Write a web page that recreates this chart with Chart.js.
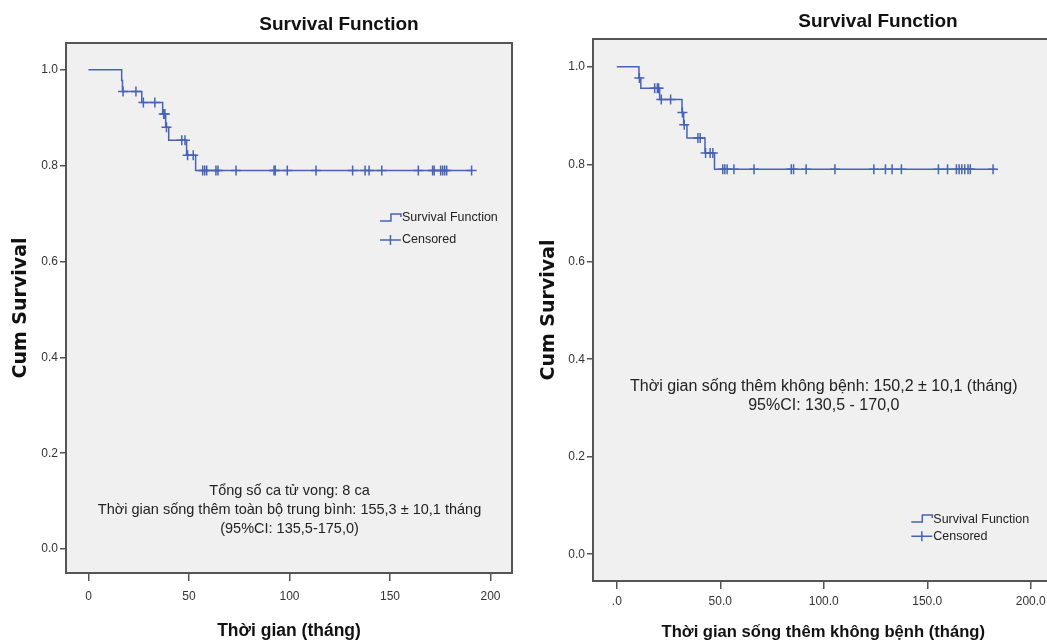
<!DOCTYPE html>
<html>
<head>
<meta charset="utf-8">
<script src="https://cdn.jsdelivr.net/npm/chart.js@4.4.0/dist/chart.umd.min.js"></script>
<style>
  html, body { margin: 0; padding: 0; background: #fff; overflow: hidden; width: 1047px; height: 642px; }
  .box { position: absolute; top: 0; width: 530px; height: 642px; }
</style>
</head>
<body>
<div class="box" style="left:0"><canvas id="chartOS" width="530" height="642"></canvas></div>
<div class="box" style="left:530px"><canvas id="chartDFS" width="530" height="642"></canvas></div>
<script>
// left panel: overall survival
var osTimes  = [0, 16.5, 16.9, 26.5, 36.9, 38.4, 39.9, 48.8, 53.3, 191];
var osValues = [1, 0.978, 0.955, 0.932, 0.908, 0.880, 0.853, 0.822, 0.790, 0.790];
var osCensored = [17.2, 23.6, 27.3, 33, 37.4, 38.0, 38.8, 46.4, 48, 49.3, 52.1,
  56.8, 57.8, 58.8, 63.4, 64.4, 73.4, 92.3, 92.9, 98.9, 113.2, 131.4, 137.6, 139.6,
  145.9, 164.1, 171.2, 172.0, 175.2, 176.2, 177.2, 178.2, 190.6];
var osXTicks = ['0', '50', '100', '150', '200'];
var osNotes = ['Tổng số ca tử vong: 8 ca',
  'Thời gian sống thêm toàn bộ trung bình: 155,3 ± 10,1 tháng',
  '(95%CI: 135,5-175,0)'];

// right panel: disease free survival
var dfsTimes  = [0, 10.7, 11.6, 20.7, 31.5, 32.3, 33.9, 42.6, 47.2, 183];
var dfsValues = [1, 0.977, 0.956, 0.933, 0.906, 0.881, 0.854, 0.823, 0.790, 0.790];
var dfsCensored = [10.9, 18.3, 19.6, 20.2, 21.5, 26, 31.7, 32.6, 39.2, 40.3, 42.9, 45.1, 46.4,
  51.2, 52.2, 53.3, 56.6, 66.3, 84.3, 85.4, 91.5, 105.4, 124.2, 129.8, 133, 137.5,
  155.4, 159.8, 164.1, 165.4, 166.7, 168.1, 169.7, 170.8, 181.8];
var dfsXTicks = ['.0', '50.0', '100.0', '150.0', '200.0'];
var dfsNotes = ['Thời gian sống thêm không bệnh: 150,2 ± 10,1 (tháng)',
  '95%CI: 130,5 - 170,0'];

var yTicks = ['0.0', '0.2', '0.4', '0.6', '0.8', '1.0'];

const blue = '#4862b6';
const fam = '"Liberation Sans", Arial, sans-serif';

// survival level at time t (last step at or before t)
const levelAt = (times, values, t) => {
  var s = values[0];
  for (var i = 0; i < times.length; i++) {
    if (times[i] <= t) s = values[i];
  }
  return s;
};

const decor = {
  id: 'decor',
  beforeDraw(chart, args, o) {
    const { ctx, chartArea: a } = chart;
    ctx.save();
    ctx.fillStyle = '#f0f0f0';
    ctx.fillRect(a.left, a.top, a.right - a.left, a.bottom - a.top);
    ctx.restore();
  },
  afterDraw(chart, args, o) {
    const { ctx, chartArea: a, scales: { x, y } } = chart;
    ctx.save();
    ctx.strokeStyle = '#555';
    ctx.lineWidth = 2;
    ctx.strokeRect(a.left, a.top, a.right - a.left, a.bottom - a.top);

    ctx.fillStyle = '#111';
    ctx.textAlign = 'center';
    ctx.textBaseline = 'middle';
    ctx.font = 'bold 19px ' + fam;
    ctx.fillText(o.title, o.titleX, o.titleY);
    ctx.font = 'bold ' + o.xTitleSize + 'px ' + fam;
    ctx.fillText(o.xTitle, (a.left + a.right) / 2, o.xTitleY);
    ctx.save();
    ctx.translate(o.yTitleX, (a.top + a.bottom) / 2);
    ctx.rotate(-Math.PI / 2);
    ctx.font = 'bold 19px "DejaVu Sans", Verdana, sans-serif';
    ctx.fillText(o.yTitle, 0, 0);
    ctx.restore();

    // notes inside the plot
    ctx.fillStyle = '#222';
    ctx.font = o.noteSize + 'px ' + fam;
    o.notes.forEach((line, i) => {
      ctx.fillText(line, x.getPixelForValue(o.noteX), y.getPixelForValue(o.noteY[i]));
    });

    // legend
    ctx.beginPath();
    ctx.rect(a.left, a.top, o.legendClip - a.left, a.bottom - a.top);
    ctx.clip();
    const lx = x.getPixelForValue(o.legendX);
    const ly1 = y.getPixelForValue(o.legendY[0]);
    const ly2 = y.getPixelForValue(o.legendY[1]);
    ctx.strokeStyle = blue;
    ctx.lineWidth = 1.5;
    ctx.beginPath();
    ctx.moveTo(lx, ly1 + 3);
    ctx.lineTo(lx + 11, ly1 + 3);
    ctx.lineTo(lx + 11, ly1 - 4);
    ctx.lineTo(lx + 21, ly1 - 4);
    ctx.lineTo(lx + 21, ly1 - 1);
    ctx.moveTo(lx, ly2);
    ctx.lineTo(lx + 21, ly2);
    ctx.moveTo(lx + 10.5, ly2 - 5);
    ctx.lineTo(lx + 10.5, ly2 + 5);
    ctx.stroke();
    ctx.fillStyle = '#222';
    ctx.textAlign = 'left';
    ctx.font = '12.5px ' + fam;
    ctx.fillText('Survival Function', lx + 22, ly1);
    ctx.fillText('Censored', lx + 22, ly2);
    ctx.restore();
  }
};

const makeChart = (canvasId, times, values, censored, xTickLabels, p) => {
  const censorPoints = censored.map(t => ({ x: t, y: levelAt(times, values, t) }));
  const stepPoints = times.map((t, i) => ({ x: t, y: values[i] }));

  return new Chart(document.getElementById(canvasId), {
    type: 'scatter',
    data: {
      datasets: [{
        type: 'line',
        data: stepPoints,
        stepped: 'before',
        borderColor: blue,
        borderWidth: 1.5,
        pointRadius: 0,
        fill: false
      }, {
        data: censorPoints,
        pointStyle: 'cross',
        pointRadius: 5,
        borderColor: blue,
        backgroundColor: blue,
        borderWidth: 1.5
      }]
    },
    options: {
      responsive: false,
      animation: false,
      events: [],
      layout: { padding: { top: p.top, right: p.right, left: 0, bottom: 0 } },
      plugins: {
        legend: { display: false },
        tooltip: { enabled: false },
        decor: p.decor
      },
      scales: {
        x: {
          type: 'linear',
          min: p.xMin, max: p.xMax,
          afterBuildTicks: s => { s.ticks = xTickLabels.map((l, i) => ({ value: i * 50 })); },
          afterFit: s => { s.height = p.xHeight; },
          ticks: {
            callback: (v, i) => xTickLabels[i],
            font: { family: fam, size: 12 },
            color: '#333',
            padding: p.xPad,
            maxRotation: 0
          },
          grid: { drawOnChartArea: false, tickLength: 8, color: '#555', lineWidth: 1.5 },
          border: { display: false }
        },
        y: {
          type: 'linear',
          min: p.yMin, max: p.yMax,
          afterBuildTicks: s => { s.ticks = yTicks.map((l, i) => ({ value: i * 0.2 })); },
          afterFit: s => { s.width = p.yWidth; },
          ticks: {
            callback: (v, i) => yTicks[i],
            font: { family: fam, size: 12 },
            color: '#333',
            padding: 2
          },
          grid: { drawOnChartArea: false, tickLength: 6, color: '#555', lineWidth: 1.5 },
          border: { display: false }
        }
      }
    },
    plugins: [decor]
  });
};

makeChart('chartOS', osTimes, osValues, osCensored, osXTicks, {
  top: 43, right: 18, yWidth: 66, xHeight: 69, xPad: 8,
  xMin: -11.2, xMax: 210.7, yMin: -0.05, yMax: 1.056,
  decor: {
    title: 'Survival Function', titleX: 339, titleY: 25,
    xTitle: 'Thời gian (tháng)', xTitleY: 631, xTitleSize: 17.5,
    yTitle: 'Cum Survival', yTitleX: 21,
    notes: osNotes, noteSize: 14.5, noteX: 100, noteY: [0.121, 0.081, 0.042],
    legendX: 145, legendY: [0.691, 0.645], legendClip: 500
  }
});

makeChart('chartDFS', dfsTimes, dfsValues, dfsCensored, dfsXTicks, {
  top: 39, right: 4, yWidth: 63, xHeight: 61, xPad: 5,
  xMin: -11.5, xMax: 211, yMin: -0.055, yMax: 1.057,
  decor: {
    title: 'Survival Function', titleX: 348, titleY: 22,
    xTitle: 'Thời gian sống thêm không bệnh (tháng)', xTitleY: 632, xTitleSize: 16.6,
    yTitle: 'Cum Survival', yTitleX: 19,
    notes: dfsNotes, noteSize: 16, noteX: 100, noteY: [0.343, 0.304],
    legendX: 142.3, legendY: [0.072, 0.037], legendClip: 530
  }
});
</script>
</body>
</html>
